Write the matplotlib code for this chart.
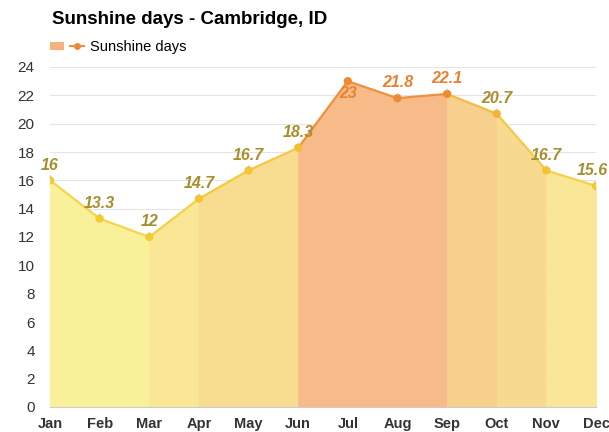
import matplotlib

matplotlib.use("Agg")
import matplotlib.pyplot as plt
from matplotlib.lines import Line2D
from matplotlib.patches import Patch
from matplotlib.legend_handler import HandlerTuple

plt.rcParams["font.family"] = ["Liberation Sans", "DejaVu Sans"]

months = ["Jan", "Feb", "Mar", "Apr", "May", "Jun",
          "Jul", "Aug", "Sep", "Oct", "Nov", "Dec"]
sunshine_days = [16, 13.3, 12, 14.7, 16.7, 18.3, 23, 21.8, 22.1, 20.7, 16.7, 15.6]
yticks = list(range(0, 25, 2))

# fill shade for each month-to-month stretch, from warm yellow to summer orange
seg_fill = ["#f9f09a", "#f9f09a", "#f9e796", "#f8dc90", "#f8dc90",
            "#f6bb88", "#f6bb88", "#f6bb88", "#f7d08e", "#f7da8f", "#f9e696"]
seg_line = ["#f6d54a", "#f6d54a", "#f5cf45", "#f5c843", "#f5c843",
            "#f0903e", "#f0903e", "#f0903e", "#f4bb45", "#f5c848", "#f6d04a"]
dot_color = ["#f3cc30", "#f3cc30", "#f3cc30", "#f3c530", "#f3c530", "#f2c030",
             "#ee8a34", "#ee8a34", "#ee8a34", "#f2b53a", "#f3c232", "#f4c934"]
label_color = ["#a68f2c"] * 6 + ["#e8822e"] * 3 + ["#a68f2c"] * 3

fig = plt.figure(figsize=(6.09, 4.32), dpi=100)
ax = fig.add_axes([50 / 609, 25 / 432, 546 / 609, 340 / 432])

x = list(range(len(months)))
for i in range(len(months) - 1):
    xs = [x[i], x[i + 1]]
    ys = [sunshine_days[i], sunshine_days[i + 1]]
    ax.fill_between(xs, ys, 0, facecolor=seg_fill[i], edgecolor=seg_fill[i],
                    lw=0.6, zorder=1)
    ax.plot(xs, ys, color=seg_line[i], lw=1.6, zorder=3, solid_capstyle="round")

ax.scatter(x, sunshine_days, s=36, c=dot_color, zorder=4, linewidths=0)

for xi, v, col in zip(x, sunshine_days, label_color):
    style = dict(textcoords="offset points", ha="center", va="center",
                 fontsize=11.5, fontweight="bold", fontstyle="italic",
                 color=col, zorder=5)
    if v == max(sunshine_days):
        ax.annotate(f"{v:g}", (xi, v), xytext=(0, -9), **style)
    else:
        # keep the last label inside the right edge
        dx = -3 if xi == x[-1] else 0
        ax.annotate(f"{v:g}", (xi, v), xytext=(dx, 11), **style,
                    arrowprops=dict(arrowstyle="-", color="#c8c0a0", lw=0.6,
                                    shrinkA=5, shrinkB=2))

ax.set_xlim(0, 11)
ax.set_ylim(0, 24)
ax.set_yticks(yticks)
ax.set_xticks(x)
ax.set_xticklabels(months, fontweight="bold", fontsize=10.5, color="#333333")
ax.tick_params(axis="y", length=0, pad=11, labelsize=11, labelcolor="#333333")
ax.tick_params(axis="x", length=0, pad=7)
ax.grid(axis="y", color="#e4e4e4", lw=0.8, zorder=0)
ax.set_axisbelow(True)
for s in ("top", "right", "left"):
    ax.spines[s].set_visible(False)
ax.spines["bottom"].set_color("#cccccc")

fig.text(52 / 609, 1 - 20 / 432, "Sunshine days - Cambridge, ID", fontsize=13.5,
         fontweight="bold", ha="left", va="center")

handle = (Patch(facecolor="#f6b27c", edgecolor="none"),
          Line2D([], [], color="#f0903e", lw=1.5, marker="o", markersize=5,
                 markerfacecolor="#ee8a34", markeredgewidth=0))
fig.legend([handle], ["Sunshine days"], handler_map={tuple: HandlerTuple(ndivide=None)},
           loc="center left", bbox_to_anchor=(37 / 609, 1 - 47 / 432), frameon=False,
           fontsize=10.5, handlelength=2.3, handleheight=0.5, handletextpad=0.4)

fig.savefig("out.png", dpi=100)
